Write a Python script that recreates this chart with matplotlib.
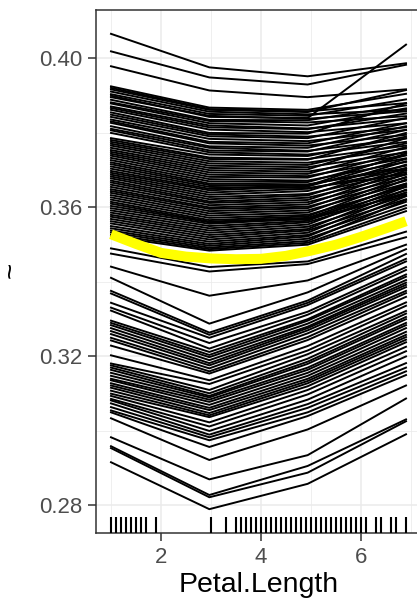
"""ICE curves of the fitted response against Petal.Length."""
import matplotlib
matplotlib.use("Agg")
import matplotlib.pyplot as plt
import matplotlib.transforms as mtransforms

plt.rcParams["font.family"] = ["Liberation Sans", "DejaVu Sans"]

# pdp grid on Petal.Length
grid_x = [1.0, 2.9667, 4.9333, 6.9]

# individual curves, one tuple per observation (value at each grid point)
top_curves = [
    (.4066, .3976, .3952, .3987),
    (.4019, .3949, .3930, .3983),
    (.3979, .3914, .3896, .3917),
]

upper_curves = [
    (.3925, .3868, .3862, .3905), (.3921, .3864, .3858, .3880),
    (.3917, .3862, .3856, .3915), (.3911, .3857, .3850, .3862),
    (.3904, .3851, .3846, .3890), (.3900, .3843, .3840, .4037),
    (.3896, .3846, .3838, .3858), (.3889, .3835, .3834, .3874),
    (.3882, .3832, .3828, .3845), (.3879, .3826, .3820, .3866),
    (.3871, .3820, .3812, .3838), (.3867, .3815, .3810, .3852),
    (.3862, .3809, .3802, .3826), (.3855, .3800, .3798, .3880),
    (.3849, .3796, .3790, .3815), (.3843, .3791, .3786, .3840),
    (.3836, .3784, .3778, .3808), (.3831, .3776, .3772, .3826),
    (.3827, .3772, .3766, .3795), (.3818, .3764, .3760, .3818),
    (.3811, .3760, .3752, .3785), (.3807, .3753, .3750, .3808),
    (.3800, .3748, .3742, .3776), (.3786, .3742, .3738, .3790),
    (.3781, .3734, .3730, .3766), (.3776, .3730, .3728, .3800),
    (.3771, .3724, .3720, .3758), (.3766, .3718, .3714, .3772),
    (.3760, .3712, .3708, .3748), (.3754, .3706, .3702, .3786),
    (.3749, .3700, .3696, .3740), (.3744, .3694, .3690, .3762),
    (.3739, .3688, .3684, .3732), (.3733, .3682, .3680, .3750),
    (.3727, .3676, .3672, .3722), (.3721, .3670, .3668, .3740),
    (.3716, .3664, .3662, .3705), (.3710, .3660, .3658, .3745),
    (.3704, .3655, .3652, .3690),
    (.3698, .3650, .3660, .3712), (.3693, .3646, .3656, .3730),
    (.3688, .3640, .3650, .3702), (.3683, .3634, .3644, .3724),
    (.3678, .3628, .3636, .3695), (.3672, .3622, .3632, .3715),
    (.3667, .3616, .3626, .3688), (.3661, .3612, .3620, .3706),
    (.3655, .3606, .3614, .3680), (.3649, .3600, .3608, .3700),
    (.3644, .3596, .3602, .3672), (.3639, .3590, .3598, .3690),
    (.3633, .3584, .3592, .3664), (.3627, .3578, .3586, .3682),
    (.3621, .3572, .3580, .3655), (.3615, .3566, .3576, .3675),
    (.3610, .3562, .3572, .3660), (.3604, .3560, .3568, .3635),
    (.3598, .3556, .3570, .3646), (.3592, .3550, .3564, .3664),
    (.3586, .3544, .3560, .3640), (.3580, .3538, .3554, .3656),
    (.3575, .3532, .3548, .3632), (.3569, .3526, .3542, .3648),
    (.3563, .3520, .3538, .3622), (.3557, .3514, .3532, .3640),
    (.3550, .3508, .3526, .3615), (.3544, .3502, .3522, .3630),
    (.3538, .3497, .3516, .3606), (.3533, .3492, .3510, .3620),
    (.3527, .3488, .3505, .3598), (.3522, .3484, .3500, .3590),
]

lower_curves = [
    (.3490, .3440, .3455, .3535), (.3476, .3428, .3448, .3520),
    (.3441, .3363, .3404, .3500), (.3411, .3288, .3372, .3488),
    (.3376, .3264, .3350, .3475), (.3369, .3258, .3344, .3462),
    (.3344, .3250, .3338, .3455), (.3331, .3236, .3320, .3440),
    (.3323, .3221, .3312, .3432), (.3296, .3212, .3300, .3420),
    (.3290, .3204, .3296, .3414), (.3284, .3198, .3288, .3405),
    (.3276, .3190, .3280, .3398), (.3268, .3182, .3276, .3392),
    (.3260, .3176, .3270, .3386), (.3250, .3168, .3262, .3376),
    (.3243, .3160, .3252, .3370), (.3229, .3154, .3244, .3360),
    (.3203, .3136, .3228, .3345), (.3181, .3126, .3216, .3336),
    (.3176, .3110, .3206, .3322), (.3170, .3101, .3194, .3315),
    (.3164, .3094, .3186, .3306), (.3156, .3090, .3180, .3300),
    (.3148, .3084, .3170, .3290), (.3140, .3078, .3164, .3284),
    (.3136, .3070, .3156, .3276), (.3128, .3062, .3148, .3266),
    (.3122, .3056, .3140, .3258), (.3116, .3048, .3134, .3252),
    (.3108, .3042, .3128, .3245), (.3100, .3037, .3120, .3238),
    (.3094, .3023, .3110, .3226), (.3086, .3012, .3098, .3214),
    (.3082, .3000, .3084, .3200), (.3074, .2990, .3072, .3182),
    (.3064, .2983, .3062, .3170), (.3055, .2975, .3050, .3160),
    (.3050, .2957, .3040, .3150),
]

bottom_curves = [
    (.3034, .2922, .3004, .3122),
    (.2983, .2870, .2935, .3087),
    (.2959, .2828, .2906, .3031),
    (.2954, .2822, .2888, .3026),
    (.2916, .2790, .2858, .2991),
]

# averaged (smoothed) curve
avg_x = [1.0, 1.5, 2.0, 2.5, 3.0, 3.5, 4.0, 4.5, 5.0, 5.5, 6.0, 6.5, 6.9]
avg_y = [.3528, .3502, .3478, .3468, .3463, .3461, .3462, .3470, .3484,
         .3500, .3521, .3544, .3563]

# observed Petal.Length values for the rug
rug_x = [1.0, 1.1, 1.2, 1.3, 1.4, 1.5, 1.6, 1.7, 1.9, 3.0, 3.3, 3.5, 3.6,
         3.7, 3.8, 3.9, 4.0, 4.1, 4.2, 4.3, 4.4, 4.5, 4.6, 4.7, 4.8, 4.9,
         5.0, 5.1, 5.2, 5.3, 5.4, 5.5, 5.6, 5.7, 5.8, 5.9, 6.0, 6.1, 6.3,
         6.4, 6.6, 6.7, 6.9]

y_ticks = [0.28, 0.32, 0.36, 0.40]
y_minor = [0.30, 0.34, 0.38]
x_ticks = [2, 4, 6]
x_minor = [1, 3, 5, 7]

fig = plt.figure(figsize=(4.17, 6.02), dpi=100)
ax = fig.add_axes([0.2308, 0.1146, 0.7782, 0.8688])

for group in (top_curves, upper_curves, lower_curves, bottom_curves):
    for curve in group:
        ax.plot(grid_x, curve, color="black", lw=1.4, zorder=3)

ax.plot(avg_x, avg_y, color="#FFFF00", lw=7.2, solid_capstyle="butt",
        zorder=4)

# rug along the bottom, 3% of panel height
trans = mtransforms.blended_transform_factory(ax.transData, ax.transAxes)
ax.vlines(rug_x, 0, 0.03, transform=trans, color="black", lw=1.5, zorder=3)

ax.set_xlim(0.705, 7.195)
ax.set_ylim(0.2726, 0.4130)
ax.set_xticks(x_ticks)
ax.set_xticks(x_minor, minor=True)
ax.set_yticks(y_ticks)
ax.set_yticklabels([f"{v:.2f}" for v in y_ticks])
ax.set_yticks(y_minor, minor=True)

ax.grid(True, which="major", color="#EBEBEB", lw=1.1, zorder=0)
ax.grid(True, which="minor", color="#EBEBEB", lw=0.55, zorder=0)
ax.set_axisbelow(True)

for side in ax.spines.values():
    side.set_color("#333333")
    side.set_linewidth(1.1)

ax.tick_params(which="major", length=6, width=1.1, color="#333333",
               labelcolor="#4D4D4D", labelsize=16, pad=4)
ax.tick_params(which="minor", length=0)

ax.set_xlabel("Petal.Length", fontsize=20.5, labelpad=3)
fig.text(12 / 417, 1 - 270 / 602, "~", rotation=90, fontsize=20,
         ha="center", va="center")

fig.savefig("out.png", dpi=100)
